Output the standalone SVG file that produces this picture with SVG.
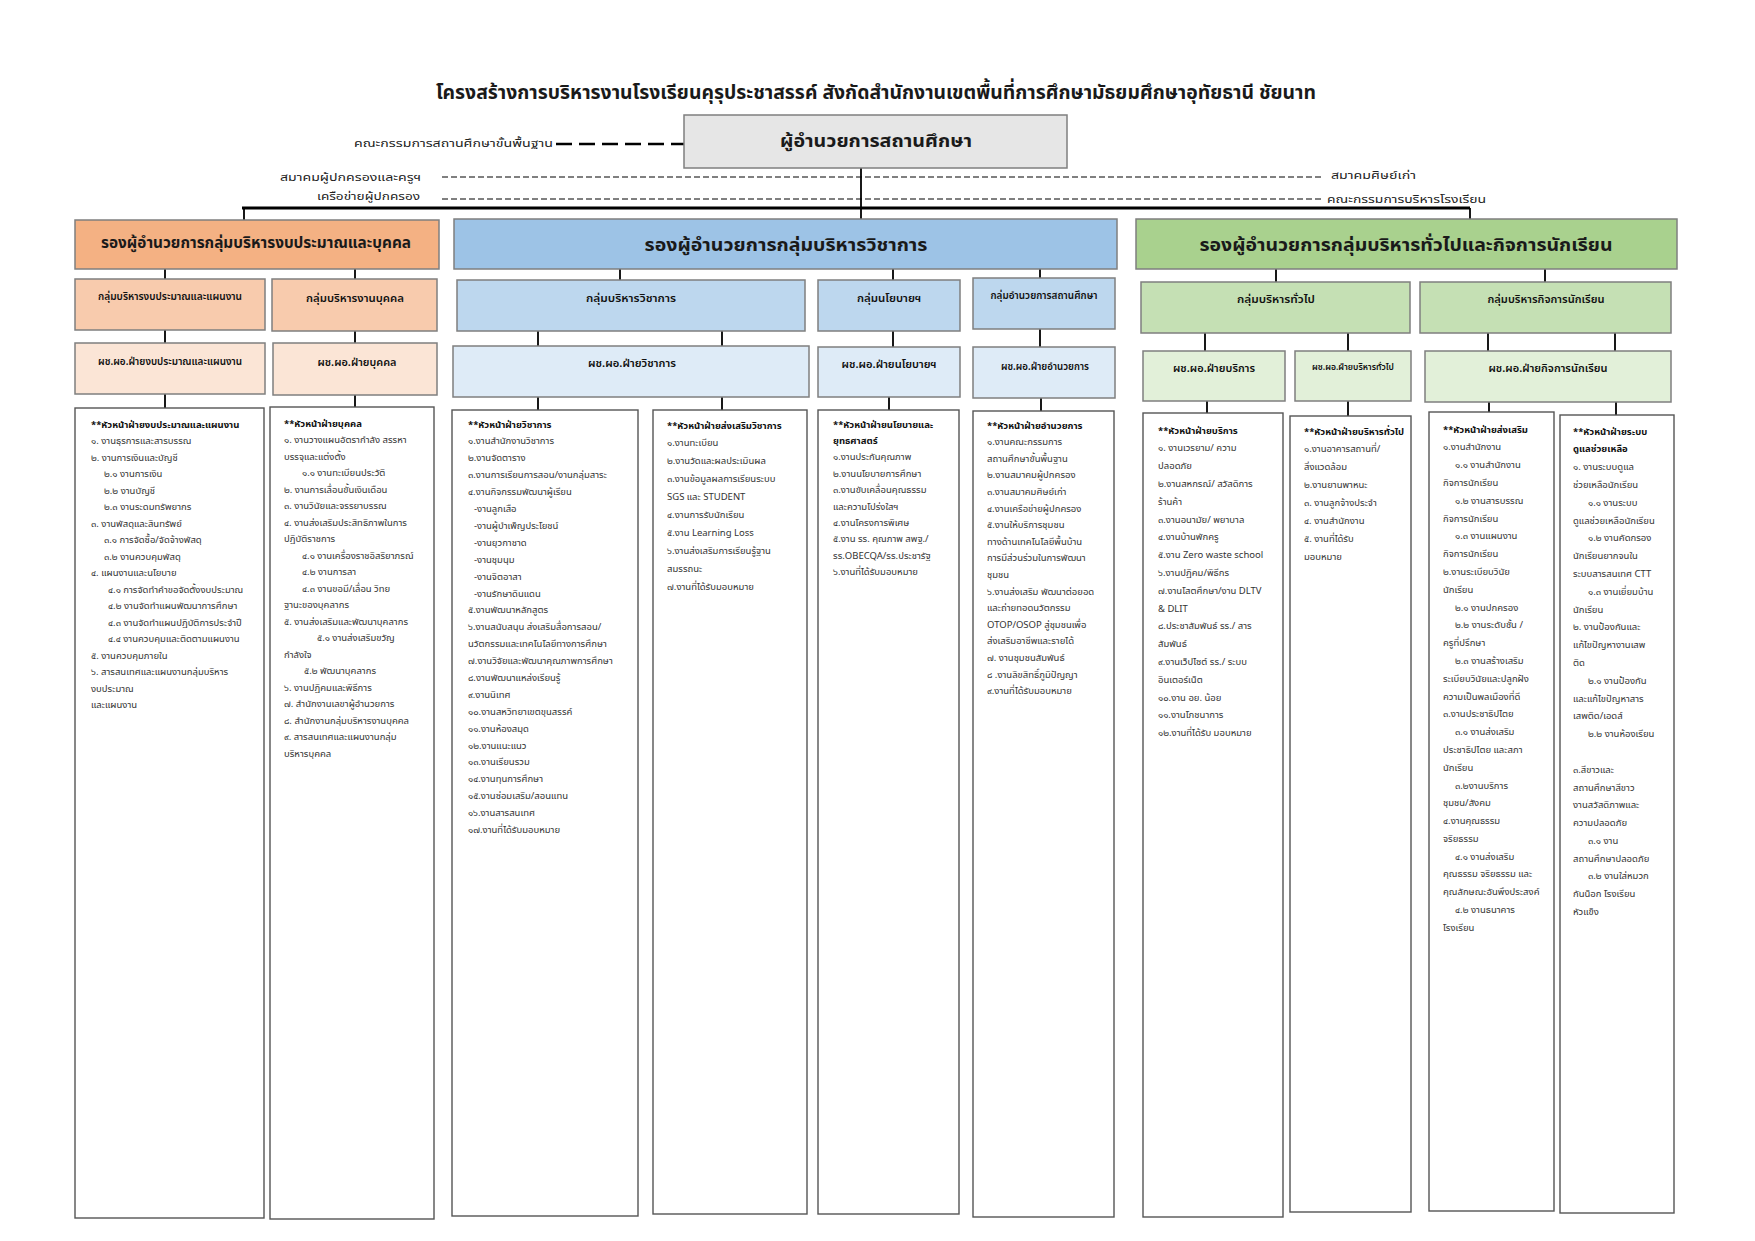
<svg xmlns="http://www.w3.org/2000/svg" width="1755" height="1241" viewBox="0 0 1755 1241">
<style>
text{font-family:"Noto Sans Thai","Noto Sans","Garuda","Loma",sans-serif;fill:#1a1a1a}
.ttl{font-size:20px;font-weight:bold;text-anchor:middle}
.h1{font-size:18px;font-weight:bold;text-anchor:middle}
.h2{font-size:10px;text-anchor:middle;font-weight:600;fill:#111}
.lbl{font-size:11px;fill:#222}
.t{font-size:9.5px;fill:#333}
.b{font-weight:bold;fill:#111}
.box{stroke:#7f7f7f;stroke-width:1.5}
.col{fill:#fff;stroke:#555;stroke-width:1.4}
.ln{stroke:#000;stroke-width:1.8;fill:none}
.dash{stroke:#000;stroke-width:1;stroke-dasharray:6 3;fill:none}
.dashb{stroke:#000;stroke-width:2.5;stroke-dasharray:16 7;fill:none}
</style>
<rect width="1755" height="1241" fill="#fff"/>
<text class="ttl" x="876" y="99" textLength="880" lengthAdjust="spacingAndGlyphs">โครงสร้างการบริหารงานโรงเรียนคุรุประชาสรรค์ สังกัดสำนักงานเขตพื้นที่การศึกษามัธยมศึกษาอุทัยธานี ชัยนาท</text>

<g id="connectors">
<path class="dashb" d="M556 144H684"/>
<path class="dash" d="M442 177H1324"/>
<path class="dash" d="M442 199H1323"/>
<path class="ln" d="M861 168V219"/>
<path class="ln" d="M242 208H1470" style="stroke-width:3"/>
<path class="ln" d="M244 208V220M1470 208V219"/>
<path class="ln" d="M165 269V279M355 269V279M620 269V280M893 269V280M1040 269V278M1276 269V282M1545 269V282"/>
<path class="ln" d="M165 330V343M355 331V343M538 331V346M722 331V346M893 331V347M1040 329V347M1205 333V351M1348 333V351M1488 333V351M1615 333V351"/>
<path class="ln" d="M165 394V408M355 395V407M538 397V410M722 397V410M889 397V410M1041 398V411M1207 401V413M1348 401V416M1489 402V412M1616 402V415"/>
</g>

<g id="labels">
<text class="lbl" x="354" y="147" textLength="199" lengthAdjust="spacingAndGlyphs">คณะกรรมการสถานศึกษาขั้นพื้นฐาน</text>
<text class="lbl" x="280" y="181" textLength="141" lengthAdjust="spacingAndGlyphs">สมาคมผู้ปกครองและครูฯ</text>
<text class="lbl" x="317" y="200" textLength="103" lengthAdjust="spacingAndGlyphs">เครือข่ายผู้ปกครอง</text>
<text class="lbl" x="1331" y="179" textLength="85" lengthAdjust="spacingAndGlyphs">สมาคมศิษย์เก่า</text>
<text class="lbl" x="1327" y="203" textLength="159" lengthAdjust="spacingAndGlyphs">คณะกรรมการบริหารโรงเรียน</text>
</g>

<g id="director">
<rect class="box" x="684" y="115" width="383" height="53" fill="#e6e6e6"/>
<text class="h1" x="876" y="147" textLength="192" lengthAdjust="spacingAndGlyphs">ผู้อำนวยการสถานศึกษา</text>
</g>

<g id="dep-budget">
<rect class="box" x="75" y="220" width="364" height="49" fill="#f4b183"/>
<text class="h1" style="font-size:16px" x="256" y="248" textLength="310" lengthAdjust="spacingAndGlyphs">รองผู้อำนวยการกลุ่มบริหารงบประมาณและบุคคล</text>
</g>
<g id="dep-academic">
<rect class="box" x="454" y="219" width="663" height="50" fill="#9dc3e6"/>
<text class="h1" x="786" y="251" textLength="283" lengthAdjust="spacingAndGlyphs">รองผู้อำนวยการกลุ่มบริหารวิชาการ</text>
</g>
<g id="dep-general">
<rect class="box" x="1136" y="219" width="541" height="50" fill="#a9d18e"/>
<text class="h1" x="1406" y="251" textLength="413" lengthAdjust="spacingAndGlyphs">รองผู้อำนวยการกลุ่มบริหารทั่วไปและกิจการนักเรียน</text>
</g>

<g id="grp-budget-plan">
<rect class="box" x="75" y="279" width="190" height="51" fill="#f8cbad"/>
<text class="h2" x="170" y="300" textLength="144" lengthAdjust="spacingAndGlyphs">กลุ่มบริหารงบประมาณและแผนงาน</text>
</g>
<g id="grp-personnel">
<rect class="box" x="272" y="279" width="165" height="52" fill="#f8cbad"/>
<text class="h2" x="355" y="302" textLength="98" lengthAdjust="spacingAndGlyphs">กลุ่มบริหารงานบุคคล</text>
</g>
<g id="grp-academic">
<rect class="box" x="457" y="280" width="348" height="51" fill="#bdd7ee"/>
<text class="h2" x="631" y="302" textLength="90" lengthAdjust="spacingAndGlyphs">กลุ่มบริหารวิชาการ</text>
</g>
<g id="grp-policy">
<rect class="box" x="818" y="280" width="142" height="51" fill="#bdd7ee"/>
<text class="h2" x="889" y="302" textLength="64" lengthAdjust="spacingAndGlyphs">กลุ่มนโยบายฯ</text>
</g>
<g id="grp-admin">
<rect class="box" x="973" y="278" width="142" height="51" fill="#bdd7ee"/>
<text class="h2" x="1044" y="299" textLength="107" lengthAdjust="spacingAndGlyphs">กลุ่มอำนวยการสถานศึกษา</text>
</g>
<g id="grp-general">
<rect class="box" x="1141" y="282" width="269" height="51" fill="#c5e0b4"/>
<text class="h2" x="1276" y="303" textLength="78" lengthAdjust="spacingAndGlyphs">กลุ่มบริหารทั่วไป</text>
</g>
<g id="grp-student">
<rect class="box" x="1420" y="282" width="251" height="51" fill="#c5e0b4"/>
<text class="h2" x="1546" y="303" textLength="117" lengthAdjust="spacingAndGlyphs">กลุ่มบริหารกิจการนักเรียน</text>
</g>

<g id="ast-budget-plan">
<rect class="box" x="75" y="343" width="190" height="51" fill="#fbe5d6"/>
<text class="h2" x="170" y="365" textLength="144" lengthAdjust="spacingAndGlyphs">ผช.ผอ.ฝ่ายงบประมาณและแผนงาน</text>
</g>
<g id="ast-personnel">
<rect class="box" x="273" y="343" width="164" height="52" fill="#fbe5d6"/>
<text class="h2" x="357" y="366" textLength="79" lengthAdjust="spacingAndGlyphs">ผช.ผอ.ฝ่ายบุคคล</text>
</g>
<g id="ast-academic">
<rect class="box" x="453" y="346" width="356" height="51" fill="#deebf7"/>
<text class="h2" x="632" y="367" textLength="88" lengthAdjust="spacingAndGlyphs">ผช.ผอ.ฝ่ายวิชาการ</text>
</g>
<g id="ast-policy">
<rect class="box" x="818" y="347" width="142" height="50" fill="#deebf7"/>
<text class="h2" x="889" y="368" textLength="95" lengthAdjust="spacingAndGlyphs">ผช.ผอ.ฝ่ายนโยบายฯ</text>
</g>
<g id="ast-admin">
<rect class="box" x="973" y="347" width="142" height="51" fill="#deebf7"/>
<text class="h2" x="1045" y="370" textLength="88" lengthAdjust="spacingAndGlyphs">ผช.ผอ.ฝ่ายอำนวยการ</text>
</g>
<g id="ast-service">
<rect class="box" x="1143" y="351" width="142" height="50" fill="#e2f0d9"/>
<text class="h2" x="1214" y="372" textLength="82" lengthAdjust="spacingAndGlyphs">ผช.ผอ.ฝ่ายบริการ</text>
</g>
<g id="ast-general">
<rect class="box" x="1295" y="351" width="116" height="50" fill="#e2f0d9"/>
<text class="h2" style="font-size:8px" x="1353" y="370" textLength="82" lengthAdjust="spacingAndGlyphs">ผช.ผอ.ฝ่ายบริหารทั่วไป</text>
</g>
<g id="ast-student">
<rect class="box" x="1425" y="351" width="246" height="51" fill="#e2f0d9"/>
<text class="h2" x="1548" y="372" textLength="119" lengthAdjust="spacingAndGlyphs">ผช.ผอ.ฝ่ายกิจการนักเรียน</text>
</g>

<g id="col-budget">
<rect class="col" x="75" y="408" width="189" height="810"/>
<text class="t" x="91" y="427.5">
<tspan class="b" x="91">**หัวหน้าฝ่ายงบประมาณและแผนงาน</tspan>
<tspan x="91" dy="16.5">๑. งานธุรการและสารบรรณ</tspan>
<tspan x="91" dy="16.5">๒. งานการเงินและบัญชี</tspan>
<tspan x="104" dy="16.5">๒.๑ งานการเงิน</tspan>
<tspan x="104" dy="16.5">๒.๒ งานบัญชี</tspan>
<tspan x="104" dy="16.5">๒.๓ งานระดมทรัพยากร</tspan>
<tspan x="91" dy="16.5">๓. งานพัสดุและสินทรัพย์</tspan>
<tspan x="104" dy="16.5">๓.๑ การจัดซื้อ/จัดจ้างพัสดุ</tspan>
<tspan x="104" dy="16.5">๓.๒ งานควบคุมพัสดุ</tspan>
<tspan x="91" dy="16.5">๔. แผนงานและนโยบาย</tspan>
<tspan x="108" dy="16.5">๔.๑ การจัดทำคำขอจัดตั้งงบประมาณ</tspan>
<tspan x="108" dy="16.5">๔.๒ งานจัดทำแผนพัฒนาการศึกษา</tspan>
<tspan x="108" dy="16.5">๔.๓ งานจัดทำแผนปฏิบัติการประจำปี</tspan>
<tspan x="108" dy="16.5">๔.๔ งานควบคุมและติดตามแผนงาน</tspan>
<tspan x="91" dy="16.5">๕. งานควบคุมภายใน</tspan>
<tspan x="91" dy="16.5">๖. สารสนเทศและแผนงานกลุ่มบริหาร</tspan>
<tspan x="91" dy="16.5">งบประมาณ</tspan>
<tspan x="91" dy="16.5">และแผนงาน</tspan>
</text>
</g>

<g id="col-personnel">
<rect class="col" x="270" y="407" width="164" height="812"/>
<text class="t" x="284" y="426.5">
<tspan class="b" x="284">**หัวหน้าฝ่ายบุคคล</tspan>
<tspan x="284" dy="16.5">๑. งานวางแผนอัตรากำลัง สรรหา</tspan>
<tspan x="284" dy="16.5">บรรจุและแต่งตั้ง</tspan>
<tspan x="302" dy="16.5">๑.๑ งานทะเบียนประวัติ</tspan>
<tspan x="284" dy="16.5">๒. งานการเลื่อนขั้นเงินเดือน</tspan>
<tspan x="284" dy="16.5">๓. งานวินัยและจรรยาบรรณ</tspan>
<tspan x="284" dy="16.5">๔. งานส่งเสริมประสิทธิภาพในการ</tspan>
<tspan x="284" dy="16.5">ปฏิบัติราชการ</tspan>
<tspan x="302" dy="16.5">๔.๑ งานเครื่องราชอิสริยาภรณ์</tspan>
<tspan x="302" dy="16.5">๔.๒ งานการลา</tspan>
<tspan x="302" dy="16.5">๔.๓  งานขอมี/เลื่อน วิทย</tspan>
<tspan x="284" dy="16.5">ฐานะของบุคลากร</tspan>
<tspan x="284" dy="16.5">๕. งานส่งเสริมและพัฒนาบุคลากร</tspan>
<tspan x="317" dy="16.5">๕.๑ งานส่งเสริมขวัญ</tspan>
<tspan x="284" dy="16.5">กำลังใจ</tspan>
<tspan x="304" dy="16.5">๕.๒ พัฒนาบุคลากร</tspan>
<tspan x="284" dy="16.5">๖. งานปฏิคมและพิธีการ</tspan>
<tspan x="284" dy="16.5">๗. สำนักงานเลขาผู้อำนวยการ</tspan>
<tspan x="284" dy="16.5">๘. สำนักงานกลุ่มบริหารงานบุคคล</tspan>
<tspan x="284" dy="16.5">๙. สารสนเทศและแผนงานกลุ่ม</tspan>
<tspan x="284" dy="16.5">บริหารบุคคล</tspan>
</text>
</g>

<g id="col-academic">
<rect class="col" x="452" y="410" width="186" height="806"/>
<text class="t" x="468" y="427.5">
<tspan class="b" x="468">**หัวหน้าฝ่ายวิชาการ</tspan>
<tspan x="468" dy="16.9">๑.งานสำนักงานวิชาการ</tspan>
<tspan x="468" dy="16.9">๒.งานจัดตาราง</tspan>
<tspan x="468" dy="16.9">๓.งานการเรียนการสอน/งานกลุ่มสาระ</tspan>
<tspan x="468" dy="16.9">๔.งานกิจกรรมพัฒนาผู้เรียน</tspan>
<tspan x="474" dy="16.9">-งานลูกเสือ</tspan>
<tspan x="474" dy="16.9">-งานผู้บำเพ็ญประโยชน์</tspan>
<tspan x="474" dy="16.9">-งานยุวกาชาด</tspan>
<tspan x="474" dy="16.9">-งานชุมนุม</tspan>
<tspan x="474" dy="16.9">-งานจิตอาสา</tspan>
<tspan x="474" dy="16.9">-งานรักษาดินแดน</tspan>
<tspan x="468" dy="16.9">๕.งานพัฒนาหลักสูตร</tspan>
<tspan x="468" dy="16.9">๖.งานสนับสนุน ส่งเสริมสื่อการสอน/</tspan>
<tspan x="468" dy="16.9">นวัตกรรมและเทคโนโลยีทางการศึกษา</tspan>
<tspan x="468" dy="16.9">๗.งานวิจัยและพัฒนาคุณภาพการศึกษา</tspan>
<tspan x="468" dy="16.9">๘.งานพัฒนาแหล่งเรียนรู้</tspan>
<tspan x="468" dy="16.9">๙.งานนิเทศ</tspan>
<tspan x="468" dy="16.9">๑๐.งานสหวิทยาเขตขุนสรรค์</tspan>
<tspan x="468" dy="16.9">๑๑.งานห้องสมุด</tspan>
<tspan x="468" dy="16.9">๑๒.งานแนะแนว</tspan>
<tspan x="468" dy="16.9">๑๓.งานเรียนรวม</tspan>
<tspan x="468" dy="16.9">๑๔.งานทุนการศึกษา</tspan>
<tspan x="468" dy="16.9">๑๕.งานซ่อมเสริม/สอนแทน</tspan>
<tspan x="468" dy="16.9">๑๖.งานสารสนเทศ</tspan>
<tspan x="468" dy="16.9">๑๗.งานที่ได้รับมอบหมาย</tspan>
</text>
</g>

<g id="col-academic-promo">
<rect class="col" x="653" y="410" width="154" height="804"/>
<text class="t" x="667" y="428.5">
<tspan class="b" x="667">**หัวหน้าฝ่ายส่งเสริมวิชาการ</tspan>
<tspan x="667" dy="17.9">๑.งานทะเบียน</tspan>
<tspan x="667" dy="17.9">๒.งานวัดและผลประเมินผล</tspan>
<tspan x="667" dy="17.9">๓.งานข้อมูลผลการเรียนระบบ</tspan>
<tspan x="667" dy="17.9">SGS และ STUDENT</tspan>
<tspan x="667" dy="17.9">๔.งานการรับนักเรียน</tspan>
<tspan x="667" dy="17.9">๕.งาน Learning Loss</tspan>
<tspan x="667" dy="17.9">๖.งานส่งเสริมการเรียนรู้ฐาน</tspan>
<tspan x="667" dy="17.9">สมรรถนะ</tspan>
<tspan x="667" dy="17.9">๗.งานที่ได้รับมอบหมาย</tspan>
</text>
</g>

<g id="col-policy">
<rect class="col" x="818" y="410" width="141" height="804"/>
<text class="t" x="833" y="427.5">
<tspan class="b" x="833">**หัวหน้าฝ่ายนโยบายและ</tspan>
<tspan class="b" x="833" dy="16.4">ยุทธศาสตร์</tspan>
<tspan x="833" dy="16.4">๑.งานประกันคุณภาพ</tspan>
<tspan x="833" dy="16.4">๒.งานนโยบายการศึกษา</tspan>
<tspan x="833" dy="16.4">๓.งานขับเคลื่อนคุณธรรม</tspan>
<tspan x="833" dy="16.4">และความโปร่งใสฯ</tspan>
<tspan x="833" dy="16.4">๔.งานโครงการพิเศษ</tspan>
<tspan x="833" dy="16.4">๕.งาน รร. คุณภาพ สพฐ./</tspan>
<tspan x="833" dy="16.4">รร.OBECQA/รร.ประชารัฐ</tspan>
<tspan x="833" dy="16.4">๖.งานที่ได้รับมอบหมาย</tspan>
</text>
</g>

<g id="col-admin">
<rect class="col" x="973" y="411" width="141" height="806"/>
<text class="t" x="987" y="428.5">
<tspan class="b" x="987">**หัวหน้าฝ่ายอำนวยการ</tspan>
<tspan x="987" dy="16.6">๑.งานคณะกรรมการ</tspan>
<tspan x="987" dy="16.6">สถานศึกษาขั้นพื้นฐาน</tspan>
<tspan x="987" dy="16.6">๒.งานสมาคมผู้ปกครอง</tspan>
<tspan x="987" dy="16.6">๓.งานสมาคมศิษย์เก่า</tspan>
<tspan x="987" dy="16.6">๔.งานเครือข่ายผู้ปกครอง</tspan>
<tspan x="987" dy="16.6">๕.งานให้บริการชุมชน</tspan>
<tspan x="987" dy="16.6">ทางด้านเทคโนโลยีพื้นบ้าน</tspan>
<tspan x="987" dy="16.6">การมีส่วนร่วมในการพัฒนา</tspan>
<tspan x="987" dy="16.6">ชุมชน</tspan>
<tspan x="987" dy="16.6">๖.งานส่งเสริม พัฒนาต่อยอด</tspan>
<tspan x="987" dy="16.6">และถ่ายทอดนวัตกรรม</tspan>
<tspan x="987" dy="16.6">OTOP/OSOP สู่ชุมชนเพื่อ</tspan>
<tspan x="987" dy="16.6">ส่งเสริมอาชีพและรายได้</tspan>
<tspan x="987" dy="16.6">๗. งานชุมชนสัมพันธ์</tspan>
<tspan x="987" dy="16.6">๘ .งานลิขสิทธิ์ภูมิปัญญา</tspan>
<tspan x="987" dy="16.6">๙.งานที่ได้รับมอบหมาย</tspan>
</text>
</g>

<g id="col-service">
<rect class="col" x="1143" y="413" width="140" height="804"/>
<text class="t" x="1158" y="433.5">
<tspan class="b" x="1158">**หัวหน้าฝ่ายบริการ</tspan>
<tspan x="1158" dy="17.8">๑. งานเวรยาม/ ความ</tspan>
<tspan x="1158" dy="17.8">ปลอดภัย</tspan>
<tspan x="1158" dy="17.8">๒.งานสหกรณ์/ สวัสดิการ</tspan>
<tspan x="1158" dy="17.8">ร้านค้า</tspan>
<tspan x="1158" dy="17.8">๓.งานอนามัย/ พยาบาล</tspan>
<tspan x="1158" dy="17.8">๔.งานบ้านพักครู</tspan>
<tspan x="1158" dy="17.8">๕.งาน Zero waste school</tspan>
<tspan x="1158" dy="17.8">๖.งานปฏิคม/พิธีกร</tspan>
<tspan x="1158" dy="17.8">๗.งานโสตศึกษา/งาน DLTV</tspan>
<tspan x="1158" dy="17.8">&amp; DLIT</tspan>
<tspan x="1158" dy="17.8">๘.ประชาสัมพันธ์ รร./ สาร</tspan>
<tspan x="1158" dy="17.8">สัมพันธ์</tspan>
<tspan x="1158" dy="17.8">๙.งานเว็ปไซต์ รร./ ระบบ</tspan>
<tspan x="1158" dy="17.8">อินเตอร์เน็ต</tspan>
<tspan x="1158" dy="17.8">๑๐.งาน อย. น้อย</tspan>
<tspan x="1158" dy="17.8">๑๑.งานโภชนาการ</tspan>
<tspan x="1158" dy="17.8">๑๒.งานที่ได้รับ มอบหมาย</tspan>
</text>
</g>

<g id="col-general">
<rect class="col" x="1290" y="416" width="121" height="796"/>
<text class="t" x="1304" y="434.5">
<tspan class="b" x="1304">**หัวหน้าฝ่ายบริหารทั่วไป</tspan>
<tspan x="1304" dy="17.9">๑.งานอาคารสถานที่/</tspan>
<tspan x="1304" dy="17.9">สิ่งแวดล้อม</tspan>
<tspan x="1304" dy="17.9">๒.งานยานพาหนะ</tspan>
<tspan x="1304" dy="17.9">๓. งานลูกจ้างประจำ</tspan>
<tspan x="1304" dy="17.9">๔. งานสำนักงาน</tspan>
<tspan x="1304" dy="17.9">๕. งานที่ได้รับ</tspan>
<tspan x="1304" dy="17.9">มอบหมาย</tspan>
</text>
</g>

<g id="col-student-promo">
<rect class="col" x="1429" y="412" width="125" height="799"/>
<text class="t" x="1443" y="432.5">
<tspan class="b" x="1443">**หัวหน้าฝ่ายส่งเสริม</tspan>
<tspan x="1443" dy="17.8">๑.งานสำนักงาน</tspan>
<tspan x="1455" dy="17.8">๑.๑ งานสำนักงาน</tspan>
<tspan x="1443" dy="17.8">กิจการนักเรียน</tspan>
<tspan x="1455" dy="17.8">๑.๒ งานสารบรรณ</tspan>
<tspan x="1443" dy="17.8">กิจการนักเรียน</tspan>
<tspan x="1455" dy="17.8">๑.๓ งานแผนงาน</tspan>
<tspan x="1443" dy="17.8">กิจการนักเรียน</tspan>
<tspan x="1443" dy="17.8">๒.งานระเบียบวินัย</tspan>
<tspan x="1443" dy="17.8">นักเรียน</tspan>
<tspan x="1455" dy="17.8">๒.๑ งานปกครอง</tspan>
<tspan x="1455" dy="17.8">๒.๒ งานระดับชั้น /</tspan>
<tspan x="1443" dy="17.8">ครูที่ปรึกษา</tspan>
<tspan x="1455" dy="17.8">๒.๓ งานสร้างเสริม</tspan>
<tspan x="1443" dy="17.8">ระเบียบวินัยและปลูกฝัง</tspan>
<tspan x="1443" dy="17.8">ความเป็นพลเมืองที่ดี</tspan>
<tspan x="1443" dy="17.8">๓.งานประชาธิปไตย</tspan>
<tspan x="1455" dy="17.8">๓.๑ งานส่งเสริม</tspan>
<tspan x="1443" dy="17.8">ประชาธิปไตย และสภา</tspan>
<tspan x="1443" dy="17.8">นักเรียน</tspan>
<tspan x="1455" dy="17.8">๓.๒งานบริการ</tspan>
<tspan x="1443" dy="17.8">ชุมชน/สังคม</tspan>
<tspan x="1443" dy="17.8">๔.งานคุณธรรม</tspan>
<tspan x="1443" dy="17.8">จริยธรรม</tspan>
<tspan x="1455" dy="17.8">๔.๑ งานส่งเสริม</tspan>
<tspan x="1443" dy="17.8">คุณธรรม จริยธรรม และ</tspan>
<tspan x="1443" dy="17.8">คุณลักษณะอันพึงประสงค์</tspan>
<tspan x="1455" dy="17.8">๔.๒ งานธนาคาร</tspan>
<tspan x="1443" dy="17.8">โรงเรียน</tspan>
</text>
</g>

<g id="col-student-care">
<rect class="col" x="1560" y="415" width="114" height="798"/>
<text class="t" x="1573" y="434.5">
<tspan class="b" x="1573">**หัวหน้าฝ่ายระบบ</tspan>
<tspan class="b" x="1573" dy="17.8">ดูแลช่วยเหลือ</tspan>
<tspan x="1573" dy="17.8">๑. งานระบบดูแล</tspan>
<tspan x="1573" dy="17.8">ช่วยเหลือนักเรียน</tspan>
<tspan x="1588" dy="17.8">๑.๑ งานระบบ</tspan>
<tspan x="1573" dy="17.8">ดูแลช่วยเหลือนักเรียน</tspan>
<tspan x="1588" dy="17.8">๑.๒ งานคัดกรอง</tspan>
<tspan x="1573" dy="17.8">นักเรียนยากจนใน</tspan>
<tspan x="1573" dy="17.8">ระบบสารสนเทศ CTT</tspan>
<tspan x="1588" dy="17.8">๑.๓ งานเยี่ยมบ้าน</tspan>
<tspan x="1573" dy="17.8">นักเรียน</tspan>
<tspan x="1573" dy="17.8">๒. งานป้องกันและ</tspan>
<tspan x="1573" dy="17.8">แก้ไขปัญหางานเสพ</tspan>
<tspan x="1573" dy="17.8">ติด</tspan>
<tspan x="1588" dy="17.8">๒.๑ งานป้องกัน</tspan>
<tspan x="1573" dy="17.8">และแก้ไขปัญหาสาร</tspan>
<tspan x="1573" dy="17.8">เสพติด/เอดส์</tspan>
<tspan x="1588" dy="17.8">๒.๒ งานห้องเรียน</tspan>
<tspan x="1573" dy="35.6">๓.สีขาวและ</tspan>
<tspan x="1573" dy="17.8">สถานศึกษาสีขาว</tspan>
<tspan x="1573" dy="17.8">งานสวัสดิภาพและ</tspan>
<tspan x="1573" dy="17.8">ความปลอดภัย</tspan>
<tspan x="1588" dy="17.8">๓.๑ งาน</tspan>
<tspan x="1573" dy="17.8">สถานศึกษาปลอดภัย</tspan>
<tspan x="1588" dy="17.8">๓.๒ งานใส่หมวก</tspan>
<tspan x="1573" dy="17.8">กันน็อก โรงเรียน</tspan>
<tspan x="1573" dy="17.8">หัวแข็ง</tspan>
</text>
</g>
</svg>
